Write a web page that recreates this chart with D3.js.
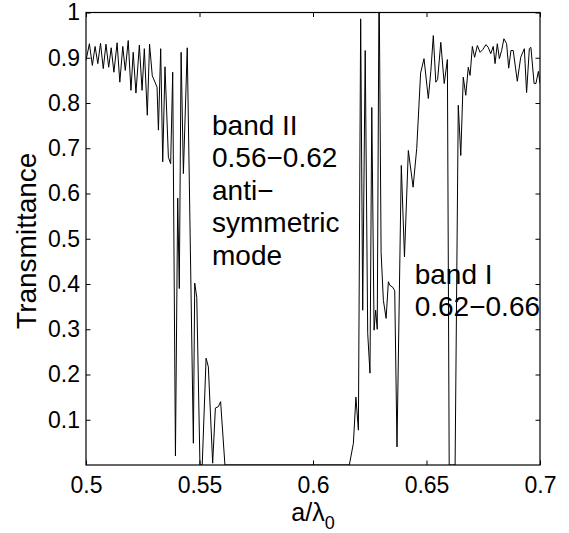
<!DOCTYPE html>
<html>
<head>
<meta charset="utf-8">
<script src="https://cdn.jsdelivr.net/npm/d3@7"></script>
<style>
  body { margin: 0; background: #fff; }
  text { font-family: "Liberation Sans", Arial, Helvetica, sans-serif; }
</style>
</head>
<body>
<div class="canvas"></div>
<script>
// normalized frequency a/lambda0
const freq = [
  0.5000, 0.5015, 0.5028, 0.5040, 0.5052, 0.5064, 0.5076, 0.5088, 0.5100, 0.5111,
  0.5123, 0.5137, 0.5149, 0.5162, 0.5173, 0.5186, 0.5198, 0.5208, 0.5220, 0.5235,
  0.5247, 0.5257, 0.5270, 0.5280, 0.5292, 0.5304, 0.5313, 0.5319, 0.5329, 0.5338,
  0.5348, 0.5363, 0.5373, 0.5382, 0.5394, 0.5404, 0.5411, 0.5419, 0.5429, 0.5446,
  0.5473, 0.5479, 0.5488, 0.5502, 0.5512, 0.5529, 0.5539, 0.5558, 0.5570, 0.5583,
  0.5593, 0.5612, 0.6160, 0.6178, 0.6189, 0.6200, 0.6210, 0.6219, 0.6230, 0.6241,
  0.6251, 0.6259, 0.6269, 0.6276, 0.6283, 0.6291, 0.6300, 0.6310, 0.6322, 0.6332,
  0.6339, 0.6351, 0.6360, 0.6370, 0.6389, 0.6403, 0.6420, 0.6441, 0.6457, 0.6474,
  0.6489, 0.6508, 0.6519, 0.6530, 0.6541, 0.6549, 0.6563, 0.6578, 0.6592, 0.6600,
  0.6611, 0.6626, 0.6640, 0.6651, 0.6662, 0.6673, 0.6684, 0.6692, 0.6702, 0.6712,
  0.6724, 0.6736, 0.6748, 0.6762, 0.6772, 0.6783, 0.6794, 0.6802, 0.6812, 0.6821,
  0.6831, 0.6841, 0.6853, 0.6862, 0.6872, 0.6882, 0.6900, 0.6915, 0.6931, 0.6941,
  0.6953, 0.6960, 0.6974, 0.6982, 0.6993, 0.7000
];
// transmittance at each frequency
const trans = [
  0.894, 0.931, 0.883, 0.925, 0.887, 0.932, 0.876, 0.930, 0.879, 0.922,
  0.868, 0.933, 0.846, 0.925, 0.872, 0.938, 0.828, 0.912, 0.822, 0.928,
  0.828, 0.920, 0.773, 0.930, 0.860, 0.846, 0.835, 0.740, 0.920, 0.670,
  0.880, 0.680, 0.666, 0.868, 0.020, 0.590, 0.390, 0.912, 0.644, 0.922,
  0.048, 0.402, 0.370, 0.000, 0.000, 0.236, 0.217, 0.004, 0.126, 0.129,
  0.140, 0.000, 0.000, 0.048, 0.150, 0.077, 0.986, 0.342, 0.916, 0.291,
  0.203, 0.790, 0.298, 0.342, 0.300, 1.080, 0.470, 0.364, 0.324, 0.405,
  0.397, 0.393, 0.385, 0.040, 0.662, 0.460, 0.695, 0.614, 0.700, 0.866,
  0.898, 0.810, 0.870, 0.949, 0.846, 0.852, 0.934, 0.843, 0.896, 0.000,
  0.000, 0.000, 0.795, 0.684, 0.857, 0.817, 0.879, 0.861, 0.925, 0.901,
  0.927, 0.912, 0.918, 0.929, 0.923, 0.909, 0.925, 0.887, 0.931, 0.898,
  0.916, 0.942, 0.931, 0.877, 0.916, 0.916, 0.848, 0.901, 0.920, 0.823,
  0.920, 0.923, 0.843, 0.843, 0.870, 0.843
];

const xTicks = [0.5, 0.55, 0.6, 0.65, 0.7];
const yTicks = [0.1, 0.2, 0.3, 0.4, 0.5, 0.6, 0.7, 0.8, 0.9, 1];

// band annotations: anchor point in data units and text lines
const bandII = { x: 0.5555, y: 0.730, lines: ['band II', '0.56\u22120.62', 'anti\u2212', 'symmetric', 'mode'] };
const bandI = { x: 0.6448, y: 0.401, lines: ['band I', '0.62\u22120.66'] };

const W = 569, H = 533;
const svg = d3.select('.canvas')
  .append('svg')
  .attr('width', W)
  .attr('height', H);

const pLeft = 86, pRight = 540, pTop = 12.5, pBottom = 465;

const x = d3.scaleLinear().domain([0.5, 0.7]).range([pLeft, pRight]);
const y = d3.scaleLinear().domain([0, 1]).range([pBottom, pTop]);

svg.append('clipPath').attr('id', 'plotclip')
  .append('rect')
  .attr('x', pLeft).attr('y', pTop)
  .attr('width', pRight - pLeft).attr('height', pBottom - pTop);

const data = freq.map((f, i) => ({ f: f, t: trans[i] }));

const line = d3.line()
  .x(d => x(d.f))
  .y(d => y(d.t));

svg.append('path')
  .datum(data)
  .attr('clip-path', 'url(#plotclip)')
  .attr('fill', 'none')
  .attr('stroke', '#000')
  .attr('stroke-width', 1)
  .attr('d', line);

// axes, ticks pointing inward like matlab
const tk = 4.5;
const fmt = d3.format('');

const xAxisGroup = svg.append('g').attr('transform', `translate(0, ${pBottom})`)
  .call(d3.axisBottom(x).tickValues(xTicks).tickSizeInner(-tk).tickSizeOuter(0).tickPadding(12).tickFormat(fmt));
const xTopGroup = svg.append('g').attr('transform', `translate(0, ${pTop})`)
  .call(d3.axisTop(x).tickValues(xTicks).tickSizeInner(-tk).tickSizeOuter(0).tickFormat(''));
const yAxisGroup = svg.append('g').attr('transform', `translate(${pLeft}, 0)`)
  .call(d3.axisLeft(y).tickValues(yTicks).tickSizeInner(-tk).tickSizeOuter(0).tickPadding(6).tickFormat(fmt));
const yRightGroup = svg.append('g').attr('transform', `translate(${pRight}, 0)`)
  .call(d3.axisRight(y).tickValues(yTicks).tickSizeInner(-tk).tickSizeOuter(0).tickFormat(''));

[xAxisGroup, xTopGroup, yAxisGroup, yRightGroup].forEach(g => {
  g.select('.domain').remove();
  g.selectAll('line').attr('stroke', '#000');
  g.selectAll('text')
    .attr('fill', '#000')
    .style('font-size', '23px')
    .style('font-family', '"Liberation Sans", Arial, sans-serif');
});

// box
svg.append('rect')
  .attr('x', pLeft).attr('y', pTop)
  .attr('width', pRight - pLeft).attr('height', pBottom - pTop)
  .attr('fill', 'none')
  .attr('stroke', '#000')
  .attr('stroke-width', 1.2);

// axis labels
svg.append('text')
  .attr('transform', `translate(36, ${(pTop + pBottom) / 2 + 2}) rotate(-90)`)
  .attr('text-anchor', 'middle')
  .style('font-size', '28px')
  .text('Transmittance');

const xl = svg.append('text')
  .attr('x', x(0.6))
  .attr('y', 521)
  .attr('text-anchor', 'middle')
  .style('font-size', '25px');
xl.append('tspan').text('a/\u03bb');
xl.append('tspan').attr('dy', 8).style('font-size', '18px').text('0');

// band annotations
[bandII, bandI].forEach(b => {
  const t = svg.append('text')
    .attr('x', x(b.x))
    .attr('y', y(b.y))
    .style('font-size', '28px');
  b.lines.forEach((s, i) => {
    t.append('tspan')
      .attr('x', x(b.x))
      .attr('dy', i === 0 ? 0 : 32.5)
      .text(s);
  });
});
</script>
</body>
</html>
